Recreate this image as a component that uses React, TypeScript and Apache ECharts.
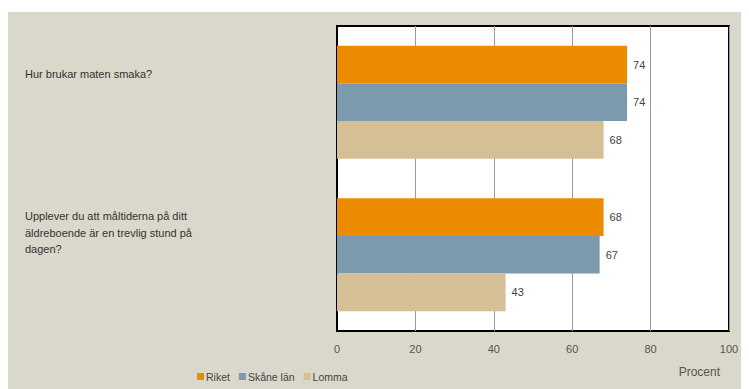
import React, { useEffect, useRef } from "react";
import * as echarts from "echarts";

const categories = [
  "Hur brukar maten smaka?",
  "Upplever du att måltiderna på ditt\näldreboende är en trevlig stund på\ndagen?",
];
const seriesNames = ["Riket", "Skåne län", "Lomma"];
const riket = [74, 68];
const skane = [74, 67];
const lomma = [68, 43];
const xTicks = { min: 0, max: 100, interval: 20 };
const colors = ["#ec8a00", "#7b9aae", "#d5c096"];

const FONT = "'Liberation Sans', Arial, sans-serif";

export default function App() {
  const ref = useRef<HTMLDivElement>(null);
  useEffect(() => {
    if (!ref.current) return;
    const chart = echarts.init(ref.current, undefined, { renderer: "svg" });
    const values = [riket, skane, lomma];
    chart.setOption({
      animation: false,
      backgroundColor: "#dad7cb",
      textStyle: { fontFamily: FONT },
      grid: {
        left: 329,
        right: 20,
        top: 14,
        bottom: 58,
        containLabel: false,
        outerBoundsMode: "none",
        show: true,
        backgroundColor: "#ffffff",
        borderColor: "#000000",
        borderWidth: 2,
      },
      legend: {
        left: 184,
        top: 354,
        itemWidth: 7,
        itemHeight: 7,
        itemGap: 9,
        icon: "rect",
        textStyle: { fontSize: 10.5, color: "#444", fontFamily: FONT, padding: [0, 0, 0, -3] },
        data: seriesNames,
      },
      xAxis: {
        type: "value",
        min: xTicks.min,
        max: xTicks.max,
        interval: xTicks.interval,
        axisLine: { show: false },
        axisTick: { show: false },
        splitLine: { show: true, lineStyle: { color: "#9a9a9a", width: 1 } },
        axisLabel: { color: "#555", fontSize: 11, margin: 12, fontFamily: FONT },
        name: "Procent",
        nameLocation: "end",
        nameGap: -9,
        nameTextStyle: {
          color: "#555",
          fontSize: 12,
          fontFamily: FONT,
          align: "right",
          verticalAlign: "top",
          padding: [35, 0, 0, 0],
        },
      },
      yAxis: {
        type: "category",
        inverse: true,
        data: categories.map((c) => ({
          value: c,
          textStyle: { align: "left", verticalAlign: "middle" },
        })),
        axisLine: { show: true, lineStyle: { color: "#000", width: 2 } },
        axisTick: { show: false },
        axisLabel: {
          align: "left",
          margin: 312,
          color: "#333",
          fontSize: 11,
          lineHeight: 16.5,
          fontFamily: FONT,
          verticalAlign: "middle",
          formatter: (v: string, i: number) =>
            v
              .split("\n")
              .map((l) => "{t|" + l + "}")
              .join("\n") + "\n{s" + i + "|}",
          rich: {
            t: { fontSize: 11, lineHeight: 16.5, color: "#333", fontFamily: FONT },
            s0: { height: 56, lineHeight: 56, fontSize: 1 },
            s1: { height: 44, lineHeight: 44, fontSize: 1 },
          },
        },
      },
      series: seriesNames.map((name, i) => ({
        name,
        type: "bar",
        data: values[i],
        barGap: "0%",
        barCategoryGap: "26%",
        itemStyle: { color: colors[i] },
        label: {
          show: true,
          position: "right",
          distance: 6,
          color: "#444",
          fontSize: 11,
          fontFamily: FONT,
        },
      })),
    });
    return () => chart.dispose();
  }, []);
  return (
    <div style={{ paddingTop: 4 }}>
      <div ref={ref} style={{ width: 741, height: 377 }} />
    </div>
  );
}
